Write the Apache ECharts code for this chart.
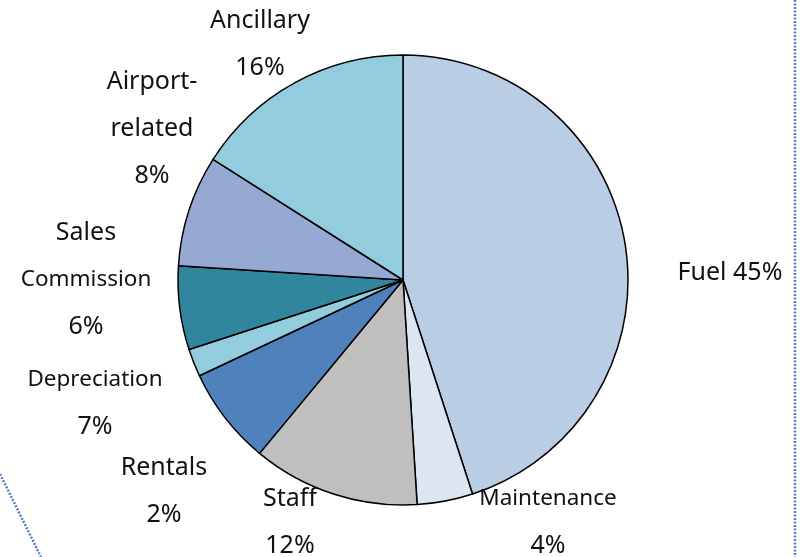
<!DOCTYPE html>
<html><head><meta charset="utf-8">
<script src="https://cdn.jsdelivr.net/npm/echarts@6/dist/echarts.min.js"></script>
<style>html,body{margin:0;padding:0;background:#fff}#c{width:802px;height:557px}</style>
</head><body><div id="c"></div>
<script>
const categories = ['Fuel','Maintenance','Staff','Depreciation','Rentals','Sales Commission','Airport-related','Ancillary'];
const values = [45, 4, 12, 7, 2, 6, 8, 16];
const colors = ['#B9CDE5','#DCE6F2','#BFBFBF','#4F81BD','#93CDDD','#31859C','#95A9D2','#93CDDD'];

// label presentation (lines, style key) per category
const labelLines = {
  'Fuel': [['b', 'Fuel {p}%']],
  'Maintenance': [['s', 'Maintenance'], ['b', '{p}%']],
  'Staff': [['b', 'Staff'], ['b', '{p}%']],
  'Depreciation': [['s', 'Depreciation'], ['b', '{p}%']],
  'Rentals': [['b', 'Rentals'], ['b', '{p}%']],
  'Sales Commission': [['b', 'Sales'], ['s', 'Commission'], ['b', '{p}%']],
  'Airport-related': [['b', 'Airport-'], ['b', 'related'], ['b', '{p}%']],
  'Ancillary': [['b', 'Ancillary'], ['b', '{p}%']]
};
const labelPos = [[730,273],[548,522],[290,522],[95,403],[164,491],[86,280],[152,129],[260,44]];

const chart = echarts.init(document.getElementById('c'));
const FONT = '"Noto Sans", "Open Sans", sans-serif';
chart.setOption({
  animation: false,
  graphic: [
    { type: 'line', shape: { x1: 795, y1: 0, x2: 795, y2: 557 },
      style: { stroke: '#4F81BD', lineWidth: 2.5, lineDash: [2, 1.5] } },
    { type: 'line', shape: { x1: 0, y1: 474, x2: 41, y2: 557 },
      style: { stroke: '#4F81BD', lineWidth: 2.5, lineDash: [2, 1.5] } }
  ],
  series: [{
    type: 'pie',
    center: [403, 280],
    radius: 225,
    startAngle: 90,
    clockwise: true,
    avoidLabelOverlap: false,
    data: categories.map((n, i) => ({ name: n, value: values[i], itemStyle: { color: colors[i] } })),
    itemStyle: { borderColor: '#000', borderWidth: 1.5 },
    labelLine: { show: false },
    label: {
      show: true,
      position: 'outside',
      overflow: 'none',
      edgeDistance: 0,
      color: '#111',
      fontFamily: FONT,
      formatter: p => labelLines[p.name].map(([k, t]) => '{' + k + '|' + t.replace('{p}', p.value) + '}').join('\n'),
      rich: {
        b: { fontSize: 25, lineHeight: 47, fontFamily: FONT, color: '#111', align: 'center' },
        s: { fontSize: 22.5, lineHeight: 47, fontFamily: FONT, color: '#111', align: 'center' }
      }
    },
    labelLayout: p => ({
      x: labelPos[p.dataIndex][0],
      y: labelPos[p.dataIndex][1],
      align: 'center',
      verticalAlign: 'middle'
    })
  }]
});
</script></body></html>
